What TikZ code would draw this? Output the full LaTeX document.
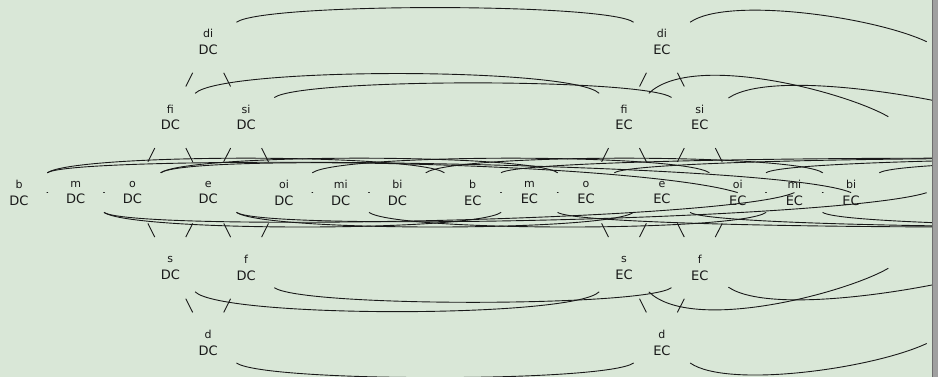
\documentclass[tikz,border=0pt]{standalone}
\usepackage{fontspec}
\setmainfont{DejaVu Sans}
\definecolor{bg}{RGB}{217,231,215}
\definecolor{ink}{RGB}{25,25,25}
\definecolor{barfill}{RGB}{160,160,160}
\definecolor{baredge}{RGB}{110,110,110}
\newcommand{\lbl}[2]{{\fontsize{11}{16.7}\selectfont #1}\\{\fontsize{13}{16.7}\selectfont #2}}
\begin{document}
\begin{tikzpicture}[x=1pt,y=1pt,
  rel/.style={circle, minimum size=68.6pt, inner sep=0pt, align=center, text=ink, font=\fontsize{13}{16.7}\selectfont},
  latedge/.style={draw=ink, line width=0.9pt},
  dotedge/.style={draw=ink, line width=1.3pt, line cap=round, shorten <=28.1pt, shorten >=28.1pt},
  arc/.style={draw=ink, line width=0.9pt},
  toparc/.style={arc, out=35, in=145, distance=34pt},
  botarc/.style={arc, out=-35, in=-145, distance=34pt},
  fiarc/.style={arc, out=44, in=136, distance=38pt},
  sarc/.style={arc, out=-44, in=-136, distance=38pt}]
\useasboundingbox (0,0) rectangle (938,377);
\fill[bg] (0,0) rectangle (938,377);
\clip (0,0) rectangle (938,377);
% DC copy
\node[rel] (bD)  at (19,184.4)    {\lbl{b}{DC}};
\node[rel] (mD)  at (75.7,184.4)  {\lbl{m}{DC}};
\node[rel] (oD)  at (132.4,184.4) {\lbl{o}{DC}};
\node[rel] (eD)  at (208.2,184.4) {\lbl{e}{DC}};
\node[rel] (oiD) at (284,184.4)   {\lbl{oi}{DC}};
\node[rel] (miD) at (340.7,184.4) {\lbl{mi}{DC}};
\node[rel] (biD) at (397.4,184.4) {\lbl{bi}{DC}};
\node[rel] (diD) at (208.2,335)   {\lbl{di}{DC}};
\node[rel] (fiD) at (170.3,259.7) {\lbl{fi}{DC}};
\node[rel] (siD) at (246.1,259.7) {\lbl{si}{DC}};
\node[rel] (sD)  at (170.3,109.1) {\lbl{s}{DC}};
\node[rel] (fD)  at (246.1,109.1) {\lbl{f}{DC}};
\node[rel] (dD)  at (208.2,33.8)  {\lbl{d}{DC}};
% EC copy
\node[rel] (bE)  at (472.7,184.4) {\lbl{b}{EC}};
\node[rel] (mE)  at (529.4,184.4) {\lbl{m}{EC}};
\node[rel] (oE)  at (586.1,184.4) {\lbl{o}{EC}};
\node[rel] (eE)  at (661.9,184.4) {\lbl{e}{EC}};
\node[rel] (oiE) at (737.7,184.4) {\lbl{oi}{EC}};
\node[rel] (miE) at (794.4,184.4) {\lbl{mi}{EC}};
\node[rel] (biE) at (851.1,184.4) {\lbl{bi}{EC}};
\node[rel] (diE) at (661.9,335)   {\lbl{di}{EC}};
\node[rel] (fiE) at (624,259.7)   {\lbl{fi}{EC}};
\node[rel] (siE) at (699.8,259.7) {\lbl{si}{EC}};
\node[rel] (sE)  at (624,109.1)   {\lbl{s}{EC}};
\node[rel] (fE)  at (699.8,109.1) {\lbl{f}{EC}};
\node[rel] (dE)  at (661.9,33.8)  {\lbl{d}{EC}};
% lattice edges
\foreach \c in {D,E} {
  \draw[latedge] (o\c) -- (fi\c);
  \draw[latedge] (o\c) -- (s\c);
  \draw[latedge] (fi\c) -- (di\c);
  \draw[latedge] (fi\c) -- (e\c);
  \draw[latedge] (s\c) -- (e\c);
  \draw[latedge] (s\c) -- (d\c);
  \draw[latedge] (di\c) -- (si\c);
  \draw[latedge] (d\c) -- (f\c);
  \draw[latedge] (e\c) -- (si\c);
  \draw[latedge] (e\c) -- (f\c);
  \draw[latedge] (si\c) -- (oi\c);
  \draw[latedge] (f\c) -- (oi\c);
  \draw[dotedge] (b\c.center) -- (m\c.center);
  \draw[dotedge] (m\c.center) -- (o\c.center);
  \draw[dotedge] (oi\c.center) -- (mi\c.center);
  \draw[dotedge] (mi\c.center) -- (bi\c.center);
}
% DC to EC arcs
\draw[toparc] (diD) to (diE);
\draw[toparc] (siD) to (siE);
\draw[fiarc]  (fiD) to (fiE);
\draw[sarc]   (sD) to (sE);
\draw[botarc] (fD) to (fE);
\draw[botarc] (dD) to (dE);
\draw[toparc] (bD) to (bE);
\draw[toparc] (oD) to (oE);
\draw[toparc] (oiD) to (oiE);
\draw[toparc] (biD) to (biE);
\draw[botarc] (mD) to (mE);
\draw[botarc] (eD) to (eE);
\draw[botarc] (miD) to (miE);
% long curves into node centres
\draw[arc] (oD) to[out=35, in=163, out distance=34pt, in distance=100pt] (oiE.center);
\draw[arc] (bD) to[out=35, in=157, out distance=34pt, in distance=80pt] (biE.center);
\draw[arc] (mD) to[out=-35, in=-156, out distance=34pt, in distance=70pt] (miE.center);
\coordinate (pbp) at (926.7,184.3);
\draw[arc] (eD) to[out=-35, in=-163, out distance=34pt, in distance=90pt] (pbp);
% EC to the right
\coordinate (pdi) at (926.7,335.3);
\coordinate (pfi) at (888.3,260.3);
\coordinate (psi) at (1010,257);
\coordinate (ps)  at (888.3,108.7);
\coordinate (pf)  at (1010,111.8);
\coordinate (pd)  at (926.7,33.5);
\draw[arc] (diE) to[out=35, in=155, out distance=45pt, in distance=60pt] (pdi);
\draw[arc] (fiE) to[out=44, in=150, out distance=60pt, in distance=50pt] (pfi);
\draw[arc] (siE) to[out=34, in=160, out distance=55pt, in distance=60pt] (psi);
\draw[arc] (sE) to[out=-44, in=-150, out distance=60pt, in distance=50pt] (ps);
\draw[arc] (fE) to[out=-34, in=-160, out distance=55pt, in distance=60pt] (pf);
\draw[arc] (dE) to[out=-35, in=-155, out distance=45pt, in distance=60pt] (pd);
\coordinate (pb)  at (1400,204.2);
\coordinate (po)  at (1500,204.2);
\coordinate (poi) at (1600,204.2);
\coordinate (pbi) at (1700,204.2);
\coordinate (pm)  at (1400,164.6);
\coordinate (pe)  at (1500,164.6);
\coordinate (pmi) at (1600,164.6);
\draw[toparc] (bE) to (pb);
\draw[toparc] (oE) to (po);
\draw[toparc] (oiE) to (poi);
\draw[toparc] (biE) to (pbi);
\draw[botarc] (mE) to (pm);
\draw[botarc] (eE) to (pe);
\draw[botarc] (miE) to (pmi);
% right edge bar
\fill[barfill] (931.5,0) rectangle (938,377);
\draw[baredge, line width=1pt] (932,0) -- (932,377);
\end{tikzpicture}
\end{document}
